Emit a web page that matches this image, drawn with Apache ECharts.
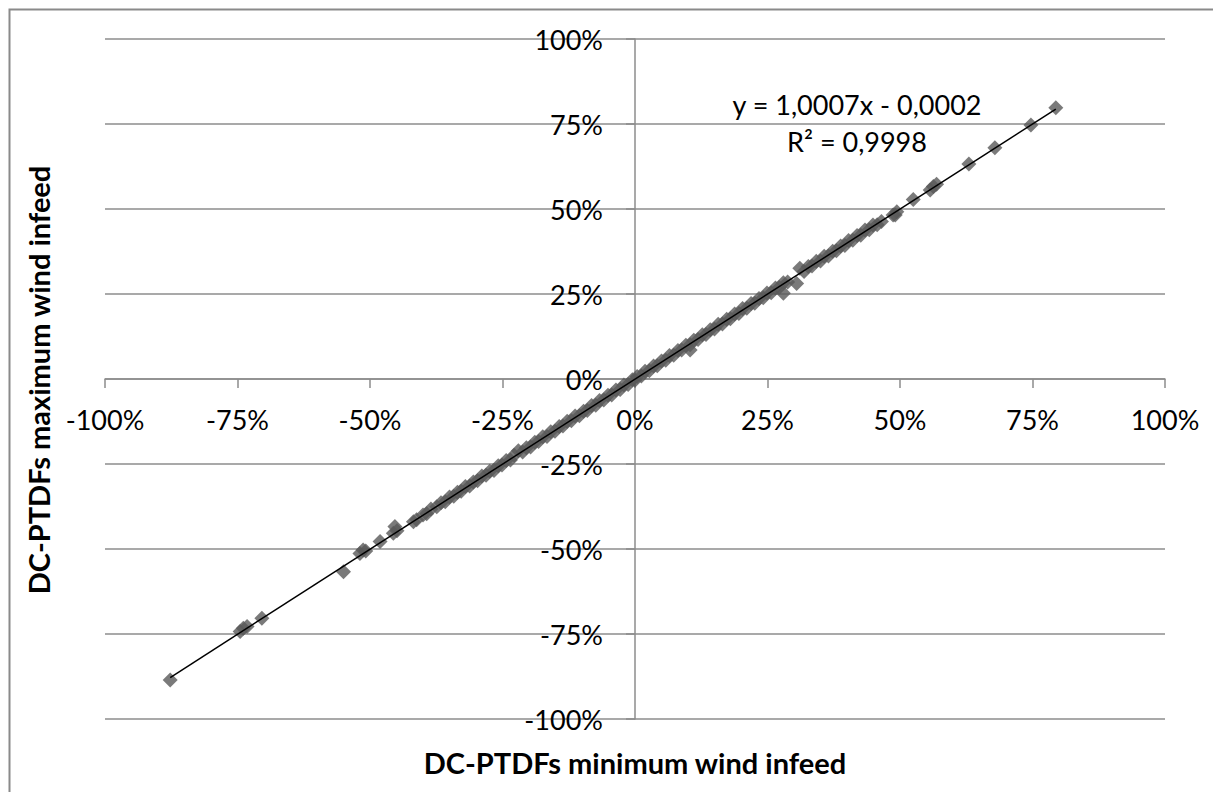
<!DOCTYPE html>
<html>
<head>
<meta charset="utf-8">
<script src="https://cdn.jsdelivr.net/npm/echarts@6/dist/echarts.min.js"></script>
<style>
html,body{margin:0;padding:0;background:#fff;}
#chart{width:1213px;height:792px;}
</style>
</head>
<body>
<div id="chart"></div>
<script>
// DC-PTDFs (%) : minimum wind infeed (x) vs maximum wind infeed (y)
const xMin = [
-87.7,-74.5,-73.9,-73.2,-70.4,-55.0,-51.9,-51.3,-50.8,-48.1,-45.6,-45.3,-44.9,-41.8,-41.2,-40.0,
-39.3,-38.5,-37.4,-36.6,-35.8,-35.0,-34.2,-33.5,-32.8,-32.0,-31.2,-30.5,-29.7,-28.9,-28.1,-27.4,
-26.6,-25.8,-25.1,-24.3,-23.5,-22.8,-22.0,-21.2,-20.5,-19.7,-18.9,-18.2,-17.4,-16.6,-15.9,-15.1,
-14.3,-13.6,-12.8,-12.0,-11.3,-10.5,-9.7,-9.0,-8.2,-7.4,-6.7,-5.9,-5.1,-4.4,-3.6,-2.8,-2.1,-1.3,
-0.5,0.0,0.4,1.2,1.9,2.7,3.5,4.2,5.0,5.8,6.5,7.3,8.1,8.8,9.6,10.4,10.4,11.1,11.9,12.7,13.4,14.2,
15.0,15.7,16.5,17.3,18.0,18.8,19.6,20.3,21.1,21.9,22.6,23.4,24.2,24.9,25.7,26.5,27.2,28.0,28.0,
28.8,30.5,31.1,31.9,32.7,33.4,34.2,35.0,35.7,36.5,37.3,38.0,38.8,39.6,40.3,41.1,41.9,42.6,43.4,
44.2,44.9,45.7,46.5,48.7,49.1,49.4,52.5,55.7,56.3,56.9,63.0,67.9,74.7,79.4
];
const yMax = [
-88.5,-74.3,-73.3,-72.8,-70.4,-56.7,-51.3,-50.3,-50.6,-47.8,-45.4,-43.4,-44.6,-42.0,-41.4,-40.0,
-39.6,-38.2,-37.6,-36.4,-36.1,-34.7,-34.5,-33.3,-33.0,-31.6,-31.5,-30.3,-29.9,-28.5,-28.3,-27.1,
-26.9,-25.5,-25.3,-24.0,-23.8,-22.4,-21.1,-21.5,-20.2,-20.0,-18.6,-18.4,-17.0,-16.9,-15.5,-15.4,
-14.0,-13.8,-12.4,-12.3,-10.9,-10.8,-9.5,-9.3,-7.8,-7.7,-6.3,-6.2,-4.8,-4.7,-3.2,-3.1,-1.8,-1.6,
-0.2,-0.4,0.7,0.9,2.3,2.4,3.8,3.9,5.3,5.5,6.9,7.0,8.4,8.5,9.9,8.5,10.1,11.4,11.6,13.0,13.1,14.5,
14.7,16.1,16.2,17.6,17.7,19.1,19.3,20.7,20.8,22.2,22.3,23.7,23.9,25.3,25.4,26.8,26.9,25.2,28.3,
28.5,28.1,32.6,31.6,33.1,33.2,34.6,34.7,36.1,36.2,37.6,37.7,39.1,39.3,40.7,40.8,42.2,42.3,43.8,
43.9,45.3,45.4,46.3,48.2,48.2,49.2,52.8,55.6,56.6,57.3,63.2,68.0,74.7,79.8
];
// linear trend line endpoints (y = 1,0007x - 0,0002)
const trendX = [-87.7, 79.4];
const trendY = [-87.8, 79.4];
const ticks = [-100,-75,-50,-25,0,25,50,75,100];
const xTitle = 'DC-PTDFs minimum wind infeed';
const yTitle = 'DC-PTDFs maximum wind infeed';
const eqText = 'y = 1,0007x - 0,0002';
const r2Text = 'R² = 0,9998';

const pts = xMin.map((x,i)=>[x,yMax[i]]);
const trend = trendX.map((x,i)=>[x,trendY[i]]);
const FONT = 'Lato';
const gridColor = '#8c8c8c';
const GL = 105, GR = 48, GT = 39, GB = 73;
const GW = 1213 - GL - GR, GH = 792 - GT - GB;

const chart = echarts.init(document.getElementById('chart'), null, {renderer:'svg'});
chart.setOption({
  animation:false,
  backgroundColor:'#fff',
  grid:{left:GL,right:GR,top:GT,bottom:GB,containLabel:false,outerBoundsMode:'none'},
  xAxis:{
    type:'value',min:ticks[0],max:ticks[ticks.length-1],interval:25,
    position:'bottom',offset:-GH/2,
    axisLine:{onZero:false,lineStyle:{color:gridColor,width:1.5}},
    axisTick:{show:true,inside:false,length:9,lineStyle:{color:gridColor,width:1.5}},
    axisLabel:{formatter:'{value}%',fontFamily:FONT,fontSize:27,color:'#000',margin:27},
    splitLine:{show:false}
  },
  yAxis:{
    type:'value',min:ticks[0],max:ticks[ticks.length-1],interval:25,
    position:'left',offset:-GW/2,
    axisLine:{onZero:false,lineStyle:{color:gridColor,width:1.5}},
    axisTick:{show:true,inside:false,length:9,lineStyle:{color:gridColor,width:1.5}},
    axisLabel:{formatter:'{value}%',fontFamily:FONT,fontSize:27,color:'#000',margin:32},
    splitLine:{show:true,lineStyle:{color:gridColor,width:1.5}}
  },
  series:[
    {type:'scatter',data:pts,symbol:'diamond',symbolSize:15,
     itemStyle:{color:'#595959'},z:3},
    {type:'line',data:trend,showSymbol:false,symbol:'none',
     lineStyle:{color:'#000',width:1.5},z:4,silent:true}
  ],
  graphic:[
    {type:'rect',left:7,top:7,silent:true,
     shape:{x:0,y:0,width:1230,height:820},
     style:{fill:'none',stroke:'#8a8a8a',lineWidth:2}},
    {type:'text',x:635,y:762,silent:true,
     style:{text:xTitle,font:'bold 29px '+FONT,fill:'#000',textAlign:'center',textVerticalAlign:'middle'}},
    {type:'text',x:38,y:380,rotation:Math.PI/2,silent:true,
     style:{text:yTitle,font:'bold 29px '+FONT,fill:'#000',textAlign:'center',textVerticalAlign:'middle'}},
    {type:'text',x:857,y:104,silent:true,
     style:{text:eqText,font:'27px '+FONT,fill:'#000',textAlign:'center',textVerticalAlign:'middle'}},
    {type:'text',x:857,y:141,silent:true,
     style:{text:r2Text,font:'27px '+FONT,fill:'#000',textAlign:'center',textVerticalAlign:'middle'}}
  ]
});
</script>
</body>
</html>
